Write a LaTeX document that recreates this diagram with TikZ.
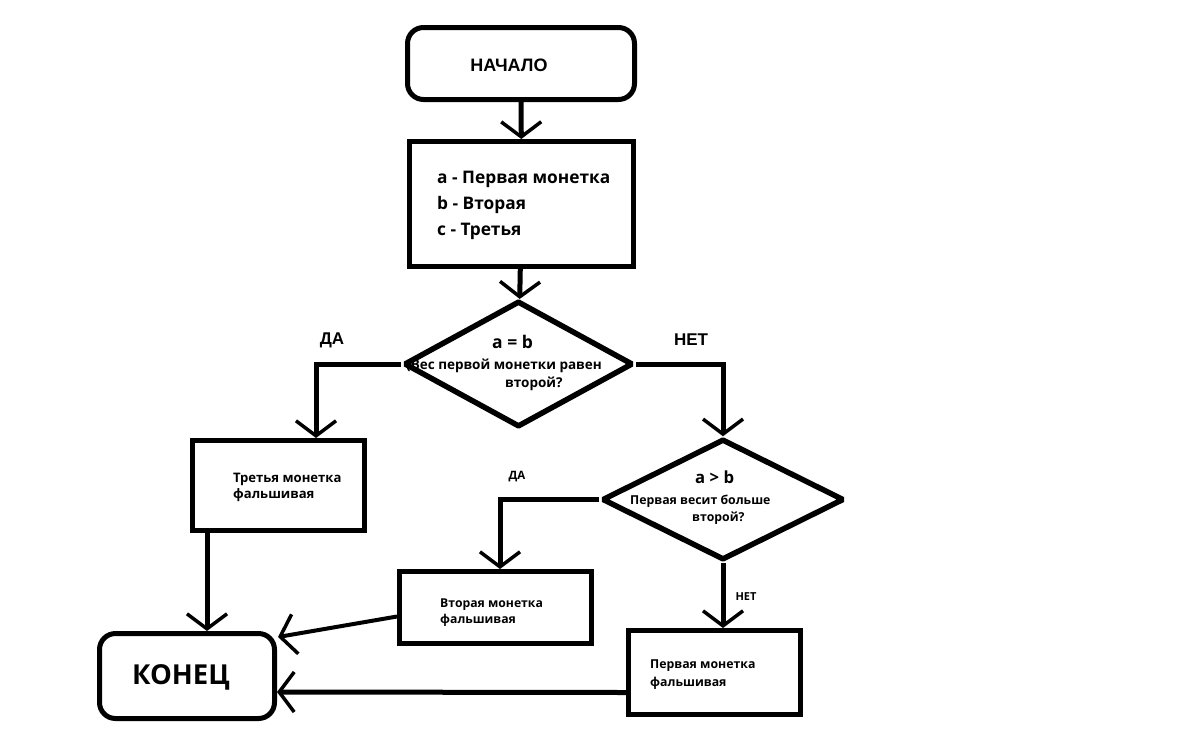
\documentclass[tikz,border=0pt]{standalone}
\usepackage{fontspec}
\setmainfont{Open Sans}
\newfontfamily\arialf{Liberation Sans}
\usetikzlibrary{shapes.geometric,arrows.meta,calc}
\begin{document}
\begin{tikzpicture}[x=1pt,y=-1pt,
  box/.style={draw,line width=5pt,rectangle,inner sep=0pt},
  rbox/.style={box,rounded corners=16pt},
  dia/.style={draw,line width=5.5pt,diamond,inner sep=0pt,line join=bevel},
  tip/.style={-{Straight Barb[length=15pt,width=40pt,line width=3.5pt]}},
  conn/.style={line width=5pt,tip},
  txt/.style={inner sep=0pt,anchor=base west,font=\bfseries\fontsize{#1}{#1}\selectfont},
  ctxt/.style={inner sep=0pt,anchor=center,font=\bfseries\fontsize{#1}{#1}\selectfont},
]
\useasboundingbox[fill=white] (0,0) rectangle (1177,750);

% shapes
\node[rbox,minimum width=227pt,minimum height=72pt] (start) at (521,63.5) {};
\node[box,minimum width=224pt,minimum height=125pt] (box2) at (521.5,204) {};
\node[dia,minimum width=229pt,minimum height=126pt] (d1) at (518.5,364) {};
\node[box,minimum width=172pt,minimum height=90pt] (box3) at (278.5,485.5) {};
\node[dia,minimum width=242pt,minimum height=121pt] (d2) at (723,499.5) {};
\node[box,minimum width=192pt,minimum height=72pt] (box4) at (495.5,607.5) {};
\node[box,minimum width=172pt,minimum height=84pt] (box5) at (714.5,672.5) {};
\node[rbox,minimum width=175pt,minimum height=85pt] (endn) at (187,676) {};

% texts
\node[ctxt=18,font=\arialf\bfseries\fontsize{18}{18}\selectfont] (tstart) at (509,65) {НАЧАЛО};
\node[txt=17.3] (t2a) at (437,183) {a - Первая монетка};
\node[txt=17.3] (t2b) at (437,209) {b - Вторая};
\node[txt=17.3] (t2c) at (437,235) {c - Третья};
\node[txt=17.5] (td1a) at (492,348) {a = b};
\node[txt=13.5] (td1b) at (406,369) {(Вес первой монетки равен};
\node[txt=13.5] (td1c) at (505,387) {второй?};
\node[ctxt=10] (td1d) at (626,363) {)};
\node[txt=13.1] (t3a) at (233,482) {Третья монетка};
\node[txt=13.1] (t3b) at (233,498) {фальшивая};
\node[txt=16.7] (td2a) at (695,483) {a > b};
\node[txt=12.3] (td2b) at (630,504) {Первая весит больше};
\node[txt=12.3] (td2c) at (692,521) {второй?};
\node[txt=12.2] (t4a) at (440,607) {Вторая монетка};
\node[txt=12.2] (t4b) at (440,623) {фальшивая};
\node[txt=12.3] (t5a) at (650,668) {Первая монетка};
\node[txt=12.3] (t5b) at (650,686) {фальшивая};
\node[ctxt=27.5] (tend) at (181,677) {КОНЕЦ};
\node[ctxt=17,font=\arialf\bfseries\fontsize{17}{17}\selectfont] (lyes1) at (332,340) {ДА};
\node[ctxt=17,font=\arialf\bfseries\fontsize{17}{17}\selectfont] (lno1) at (691,340) {НЕТ};
\node[ctxt=11.5] (lyes2) at (517,477) {ДА};
\node[ctxt=11] (lno2) at (746,597) {НЕТ};

% connectors
\coordinate (ya1) at (316,438);
\coordinate (ya2) at (500,569);
\coordinate (e1) at (207,631);
\draw[conn] (start) -- (box2);
\draw[conn] (box2) -- (d1);
\draw[conn] (d1.west) -| (ya1);
\draw[conn] (d1.east) -| (d2.north);
\draw[conn] (d2.west) -| (ya2);
\draw[conn] (d2.south) -- (d2.south |- box5.north);
\draw[conn] (box3.south -| e1) -- (e1);
\draw[line width=4pt,tip] ($(box4.west)+(0,9)$) -- ($(endn.north east)+(1,6)$);
\draw[conn] ($(box5.west)+(0,20)$) -- ($(endn.east)+(0,16)$);
\end{tikzpicture}
\end{document}
